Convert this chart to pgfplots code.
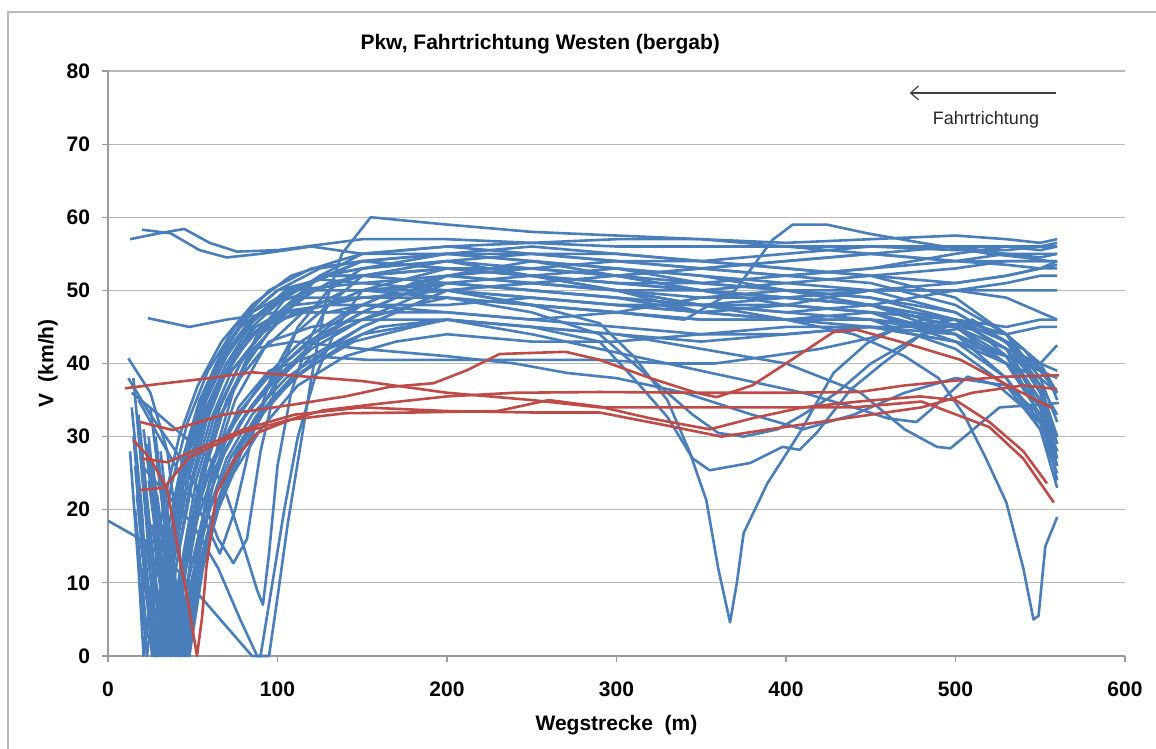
\documentclass[border=0pt]{standalone}
\usepackage{pgfplots}
\pgfplotsset{compat=1.18}
\usepackage{fontspec}
\setmainfont{Liberation Sans}
\usetikzlibrary{arrows.meta}
\definecolor{myblue}{RGB}{74,126,187}
\definecolor{myred}{RGB}{190,75,72}
\definecolor{gridgray}{RGB}{185,185,185}
\definecolor{axgray}{RGB}{155,155,155}
\begin{document}
\begin{tikzpicture}[x=1pt,y=1pt]
\useasboundingbox (-54,-46.5) rectangle (524,328);
\draw[gridgray, line width=0.7pt] (-50,-60) -- (-50,322) -- (540,322);
\begin{axis}[
  at={(0,0)}, anchor=south west,
  width=508.5pt, height=292.5pt, scale only axis,
  xmin=0, xmax=600, ymin=0, ymax=80,
  xtick={0,100,...,600}, ytick={0,10,...,80},
  axis lines*=left,
  axis line style={axgray, line width=0.6pt},
  ymajorgrids, grid style={gridgray, line width=0.6pt},
  tick align=outside, major tick length=3pt,
  tick style={axgray, line width=0.6pt},
  ticklabel style={font=\fontsize{10.5}{12}\selectfont\bfseries},
  /pgf/number format/assume math mode=true,
  xticklabel shift=6.5pt, yticklabel shift=2.5pt,
  title={Pkw, Fahrtrichtung Westen (bergab)},
  title style={at={(axis description cs:0.425,1.026)}, anchor=center, font=\fontsize{10.5}{12}\selectfont\bfseries},
  xlabel={Wegstrecke\ \ (m)},
  xlabel style={at={(axis description cs:0.5,-0.118)}, anchor=center, font=\fontsize{10.5}{12}\selectfont\bfseries},
  ylabel={V\ \ (km/h)},
  ylabel style={at={(axis description cs:-0.059,0.5)}, anchor=center, font=\fontsize{10.5}{12}\selectfont\bfseries},
  clip=false,
  bl/.style={color=myblue, line width=1.3pt, line join=round, mark=none},
  rd/.style={color=myred, line width=1.3pt, line join=round, mark=none},
]
% ---- blue runs ----
\addplot[bl] coordinates {(13,57)(30,57.8)(45,58.4)(60,56.5)(76,55.3)(100,55.5)(150,57)(200,57)(250,56.5)(300,56)(350,56)(400,56)(450,56)(500,55.5)(530,55.5)(550,56)(560,56)};
\addplot[bl] coordinates {(20,58.3)(37,57.8)(54,55.5)(70,54.5)(90,55)(120,56)(150,55)(200,56)(250,56.5)(300,57)(350,57)(400,56.5)(450,57)(500,57.5)(530,57)(550,56.5)(560,57)};
\addplot[bl] coordinates {(23.6,46.2)(48,45)(70,46)(100,47)(130,48)(150,48)(200,48)(250,49)(300,48)(350,47)(400,48)(450,47)(500,46)(530,45)(550,46)(560,46)};
\addplot[bl] coordinates {(12,40.7)(25,36)(35,28)(42,15)(46,0)(52,12)(58,22)(66,30)(75,37)(88,44)(105,49)(125,52)(150,53)(200,54)(250,53)(300,52)(350,53)(400,54)(450,55)(500,54)(530,53.5)(550,53)(560,53)};
\addplot[bl] coordinates {(0,18.5)(19,16)(24,8)(27,0)(33,10)(40,20)(48,28)(58,35)(70,41)(85,46)(105,50)(130,52)(150,52)(200,53)(250,52)(300,51)(350,50)(400,51)(450,52)(500,53)(530,54)(550,54)(560,54)};
\addplot[bl] coordinates {(14,34)(20,20)(24,5)(26,0)(30,8)(36,18)(44,27)(54,35)(66,41)(80,46)(100,50)(125,51.5)(150,51)(200,52)(250,53)(300,52)(350,50)(400,49)(450,50)(500,51)(530,52)(550,53)(560,53.5)};
\addplot[bl] coordinates {(15,30)(22,12)(28,0)(34,12)(42,24)(52,33)(64,40)(78,45)(96,48)(120,50)(150,50)(200,51)(250,50)(300,49)(350,48)(400,47)(450,48)(500,50)(530,51)(550,52)(560,52)};
\addplot[bl] coordinates {(16,26)(22,10)(30,0)(36,14)(44,25)(55,34)(68,41)(84,46)(105,49)(130,49)(150,49)(200,50)(250,51)(300,50)(350,48)(400,46)(450,45)(500,45)(530,44)(550,45)(560,45)};
\addplot[bl] coordinates {(17,22)(24,6)(32,0)(38,12)(47,24)(58,33)(72,40)(90,45)(115,47)(150,47)(200,47)(250,46)(300,47)(350,49)(400,50)(450,50)(500,50)(530,50)(550,50)(560,50)};
\addplot[bl] coordinates {(18,33)(26,15)(33,0)(39,13)(47,24)(57,33)(70,40)(86,46)(105,50)(130,52)(150,52)(200,53)(250,53)(300,52)(350,51)(400,50)(450,49)(500,46)(530,42)(550,37)(560,33)};
\addplot[bl] coordinates {(19,28)(28,8)(34,0)(40,12)(48,23)(58,32)(70,39)(85,45)(104,49)(128,52)(150,53)(200,54)(250,52)(300,51)(350,50)(400,48)(450,47)(500,44)(530,40)(550,34)(560,30)};
\addplot[bl] coordinates {(20,25)(30,5)(36,0)(42,11)(51,20)(62,27)(76,33)(94,38)(118,43)(150,47)(180,50)(200,51)(250,50)(300,49)(350,48)(400,48)(450,47)(500,43)(530,38)(550,32)(560,28)};
\addplot[bl] coordinates {(21,31)(30,14)(37,0)(43,12)(52,24)(63,33)(78,40)(96,46)(120,51)(150,54)(200,53)(250,52)(300,50)(350,48)(400,49)(450,48)(500,45)(530,41)(550,35)(560,26)};
\addplot[bl] coordinates {(22,20)(32,3)(38,0)(44,10)(53,19)(64,26)(78,32)(96,37)(120,42)(150,46)(180,49)(200,51)(250,52)(300,50)(350,47)(400,46)(450,46)(500,42)(530,37)(550,31)(560,25)};
\addplot[bl] coordinates {(23,29)(33,10)(40,0)(46,12)(55,24)(67,33)(82,40)(100,46)(125,52)(150,55)(200,55)(250,54)(300,52)(350,50)(400,49)(450,48)(500,46)(530,42)(550,34)(560,24)};
\addplot[bl] coordinates {(24,24)(34,6)(41,0)(48,11)(57,20)(69,28)(84,34)(104,40)(130,45)(150,48)(180,51)(200,52)(250,51)(300,50)(350,50)(400,49)(450,48)(500,44)(530,38)(550,31)(560,23)};
\addplot[bl] coordinates {(25,34)(35,15)(42,0)(49,14)(58,26)(70,35)(86,42)(106,47)(130,47)(150,48)(200,47)(250,46)(300,45)(350,44)(400,44)(450,45)(500,43)(530,40)(550,38)(560,36)};
\addplot[bl] coordinates {(26,27)(36,8)(43,0)(50,11)(60,20)(72,27)(88,33)(110,38)(135,42)(150,44)(200,46)(250,45)(300,44)(350,43)(400,44)(450,45)(500,44)(530,41)(550,39)(560,38)};
\addplot[bl] coordinates {(27,20)(37,4)(44,0)(51,10)(61,18)(74,25)(90,31)(112,37)(140,41)(170,43)(200,44)(250,43)(300,43)(350,44)(400,45)(450,45)(500,43)(530,41)(550,40)(560,42.5)};
\addplot[bl] coordinates {(28,30)(38,12)(45,0)(52,14)(62,26)(75,35)(92,42)(115,47)(140,50)(150,50)(200,49)(250,48)(300,47)(350,46)(400,46)(450,46)(500,45)(530,42)(550,40)(560,39)};
\addplot[bl] coordinates {(30,25)(40,6)(47,0)(54,11)(65,20)(79,28)(96,35)(120,41)(150,45)(180,48)(200,50)(250,51)(300,52)(350,53)(400,52)(450,51)(500,48)(530,44)(550,37)(560,30)};
\addplot[bl] coordinates {(32,18)(42,3)(48,0)(56,12)(67,22)(81,30)(98,37)(122,43)(150,47)(180,50)(200,52)(250,54)(300,53)(350,52)(400,51)(450,50)(500,47)(530,43)(550,37)(560,29)};
\addplot[bl] coordinates {(12,38)(25,33)(40,28)(55,22)(65,16)(74,12.7)(82,16)(90,28)(100,38)(112,45)(130,50)(150,53)(200,55)(250,55)(300,54)(350,53)(400,54)(450,55)(500,56)(530,56)(550,55.5)(560,56)};
\addplot[bl] coordinates {(14,36)(30,33)(45,30)(60,27)(70,22)(80,15)(88,9)(91.4,7)(95,14)(100,26)(108,36)(118,43)(130,48)(150,52)(200,54)(250,55)(300,55)(350,54)(400,53)(450,52)(500,51)(530,52)(550,53)(560,54)};
\addplot[bl] coordinates {(20,26)(35,22)(50,18)(65,12)(78,5)(88,0)(95,0)(100,8)(106,18)(113,28)(120,38)(128,48)(138,55)(155,60)(200,59)(250,58)(300,57.5)(350,57)(400,56)(450,55)(500,54)(530,54)(550,54)(560,54)};
\addplot[bl] coordinates {(25,15)(40,12)(55,8)(70,4)(85,0)(90,0)(97,10)(104,20)(112,30)(122,38)(135,45)(150,50)(200,53)(250,52)(300,51)(350,51)(400,52)(450,53)(500,54)(530,55)(550,55)(560,55)};
\addplot[bl] coordinates {(18,35)(30,30)(45,24)(58,18)(66,14)(75,20)(85,30)(96,38)(110,44)(130,48)(150,50)(200,50)(250,49)(300,48)(350,47)(400,48)(450,50)(500,50)(530,49)(550,47)(560,46)};
\addplot[bl] coordinates {(16,20)(23,3)(29,0)(35,12)(43,24)(53,33)(66,40)(82,45)(102,49)(128,52)(150,54)(200,55)(250,54)(300,53)(350,51)(400,50)(450,49)(500,47)(530,43)(550,36)(560,27)};
\addplot[bl] coordinates {(21,14)(27,0)(33,10)(41,22)(51,32)(64,40)(80,46)(100,50)(125,53)(150,54)(200,55)(250,56)(300,55)(350,54)(400,55)(450,56)(500,56)(530,55)(550,54.5)(560,55)};
\addplot[bl] coordinates {(24,9)(31,0)(37,11)(45,22)(55,31)(68,38)(85,44)(106,48)(130,51)(150,52)(200,53)(250,53)(300,54)(350,54)(400,53)(450,52)(500,49)(530,44)(550,38)(560,32)};
\addplot[bl] coordinates {(27,12)(35,0)(41,9)(50,18)(61,26)(75,32)(92,38)(114,43)(140,47)(170,50)(200,52)(250,51)(300,50)(350,49)(400,49)(450,48)(500,45)(530,40)(550,33)(560,26)};
\addplot[bl] coordinates {(33,15)(40,0)(47,10)(56,19)(67,27)(81,33)(99,38)(122,43)(150,46)(180,48)(200,49)(250,48)(300,47)(350,46)(400,46)(450,47)(500,46)(530,42)(550,35)(560,29)};
\addplot[bl] coordinates {(35,8)(43,0)(50,9)(60,18)(72,26)(87,32)(106,37)(130,42)(150,45)(180,48)(200,50)(250,49)(300,48)(350,48)(400,47)(450,46)(500,44)(530,40)(550,34)(560,28)};
\addplot[bl] coordinates {(13,28)(18,12)(21,0)(26,10)(33,21)(42,30)(53,37)(67,43)(85,48)(108,52)(135,54)(150,55)(200,56)(250,55)(300,54)(350,53)(400,52)(450,53)(500,55)(530,56)(550,56)(560,56.5)};
\addplot[bl] coordinates {(19,10)(23,0)(29,12)(37,23)(47,32)(59,39)(75,45)(95,50)(120,53)(150,54)(200,53)(250,52)(300,53)(350,52)(400,50)(450,48)(500,46)(530,43)(550,39)(560,36)};
% special runs
\addplot[bl] coordinates {(17,24)(26,5)(33,0)(40,12)(49,23)(60,32)(73,39)(90,44)(110,47)(150,49)(200,50)(250,48)(290,45.5)(310,41)(330,35)(343,28)(353,21.3)(360,12)(367,4.6)(371,10)(375,16.8)(389,23.6)(408,30.5)(428,38.7)(448,42.8)(467,45)(500,46)(530,44)(550,40)(560,36)};
\addplot[bl] coordinates {(22,16)(30,2)(37,0)(44,12)(53,23)(64,32)(78,38)(95,43)(120,45)(150,46)(200,46)(250,45)(290,43)(310,38)(330,32.7)(345,27)(355,25.4)(379,26.4)(398,28.6)(408,28.2)(418,30.5)(438,36.4)(457,40)(480,44)(510,46)(535,42)(550,36)(560,30)};
\addplot[bl] coordinates {(24,30)(33,10)(39,0)(46,13)(55,25)(66,34)(80,41)(98,46)(122,50)(150,52)(200,51)(250,50)(300,49)(350,47)(400,46)(440,44)(470,41)(490,38)(505,33)(518,27)(530,21)(540,12)(546,5)(549,5.5)(553,15)(560,19)};
\addplot[bl] coordinates {(29,22)(39,4)(46,0)(53,11)(63,20)(76,28)(93,34)(115,39)(145,43)(180,45)(200,46)(250,45)(300,44)(350,42)(400,40)(444,36)(470,31)(489,28.6)(497,28.4)(508,30.5)(526,34)(545,34.3)(561,34.6)};
\addplot[bl] coordinates {(15,38)(22,20)(29,0)(35,12)(43,24)(54,34)(68,42)(85,47)(108,50)(150,51)(200,50)(250,48)(300,47)(340,46)(370,50)(392,56.9)(404,59)(424,59)(448,57.8)(480,56.5)(520,55)(540,54.5)(555,54)};
\addplot[bl] coordinates {(31,28)(40,10)(46,0)(54,14)(64,26)(77,34)(95,39)(120,41)(153,40.5)(200,40.5)(250,40.5)(290,40.5)(330,40)(358,40)(390,41)(420,42)(450,43.5)(480,46)(510,45)(530,41)(545,35)(558,27)};
\addplot[bl] coordinates {(26,18)(35,2)(42,0)(49,10)(58,19)(70,27)(85,33)(105,38)(130,42)(160,45)(200,46)(250,44)(290,42)(330,40)(370,38)(410,36)(440,34)(460,32.5)(477,32)(492,35)(507,38.2)(525,37)(545,33)(558,30)};
\addplot[bl] coordinates {(20,12)(28,0)(35,11)(44,23)(55,32)(68,38)(85,42)(110,43)(150,42)(200,41)(240,40)(271,38.7)(300,38)(340,36)(380,33)(410,31)(440,33)(470,36)(500,38)(530,37)(550,33)(560,28)};
\addplot[bl] coordinates {(18,20)(25,4)(31,0)(37,12)(45,24)(56,33)(70,40)(87,45)(110,48)(150,49)(200,49)(250,47)(290,44)(320,38)(345,33)(360,30.5)(375,30)(395,31)(410,33)(430,36)(450,40)(480,44)(510,45)(540,42)(555,38)(560,35)};
% ---- red runs ----
\addplot[rd] coordinates {(10,36.6)(30,37.2)(60,38)(85,38.8)(117,38.2)(150,37.6)(200,36)(250,35)(290,34)(330,34)(380,34)(440,34)(480,34.8)(520,31.3)(540,27)(558,21)};
\addplot[rd] coordinates {(19,32)(38,30.9)(68,33)(107,34.3)(140,35.5)(166,36.8)(192,37.3)(212,39.1)(231,41.3)(270,41.6)(290,40.5)(320,38)(347,36)(359,35.4)(380,37)(400,40)(428,44.3)(442,44.6)(467,43)(503,40.5)(535,36.5)(557,33.9)};
\addplot[rd] coordinates {(15,29.5)(25,27)(35,22.7)(41,15)(47,7.7)(52.5,0)(55.5,5.3)(58,12)(64,22.3)(75,27)(88,30.5)(110,32.5)(127,33.6)(160,34.5)(200,35.5)(240,36)(290,36.1)(350,36)(400,36)(443,36.1)(470,37)(502,37.7)(530,38.2)(561,38.4)};
\addplot[rd] coordinates {(19,22.7)(33,23)(48,27.2)(78,30.5)(107,32.3)(140,33.2)(180,33.3)(230,33.5)(260,35)(290,34.1)(320,32.5)(355,31)(380,32.5)(410,34)(443,34.8)(479,35.5)(500,35)(520,32)(540,28)(554,23.6)};
\addplot[rd] coordinates {(20,27)(35,26.5)(50,28)(80,31)(110,33)(150,34)(200,33.5)(250,33.3)(290,33.3)(330,31.5)(362,30)(390,31)(420,32)(450,33)(480,34)(510,36)(540,37)(560,36.5)};
% ---- direction arrow ----
\draw[black!75, line width=0.6pt, -{Straight Barb[length=4pt,width=7pt]}] (axis cs:559,77) -- (axis cs:473,77);
\node[font=\fontsize{9}{11}\selectfont, text=black!85] at (axis cs:518,73.3) {Fahrtrichtung};
\end{axis}
\end{tikzpicture}
\end{document}
